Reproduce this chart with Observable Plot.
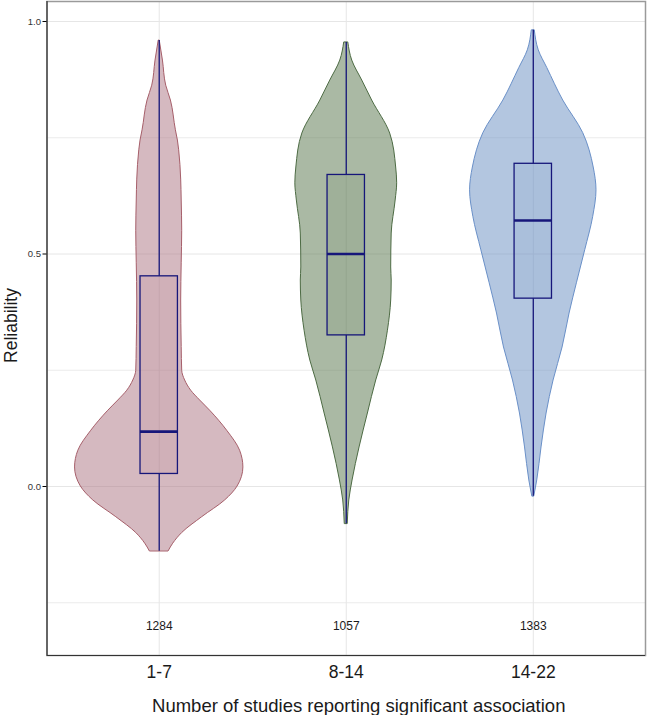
<!DOCTYPE html>
<html>
<head>
<meta charset="utf-8">
<script src="https://cdn.jsdelivr.net/npm/d3@7"></script>
<script src="https://cdn.jsdelivr.net/npm/@observablehq/plot@0.6"></script>
<style>
  html, body { margin: 0; padding: 0; background: white; }
</style>
</head>
<body>
<div id="chart"></div>
<script>
// ---- data ----
const categories = ["1-7", "8-14", "14-22"];
const counts = [1284, 1057, 1383];
const whiskerLow = [-0.139, -0.080, -0.021];
const q1 = [0.027, 0.325, 0.404];
const median = [0.118, 0.500, 0.572];
const q3 = [0.452, 0.670, 0.694];
const whiskerHigh = [0.959, 0.955, 0.981];
const yTicks = [0, 0.5, 1];
const yMinorGrid = [-0.25, 0.25, 0.75];

// violin density profiles (reliability level -> relative density)
const levels1 = [0.959, 0.916, 0.862, 0.83, 0.766, 0.744, 0.723, 0.66, 0.615, 0.55, 0.48, 0.40, 0.30, 0.249, 0.228, 0.206, 0.185, 0.163, 0.12, 0.077, 0.041, 0.0, -0.03, -0.066, -0.1, -0.123, -0.139];
const density1 = [0.006, 0.044, 0.083, 0.139, 0.198, 0.222, 0.237, 0.261, 0.267, 0.273, 0.267, 0.261, 0.267, 0.273, 0.308, 0.380, 0.486, 0.605, 0.807, 0.961, 1.0, 0.931, 0.783, 0.510, 0.273, 0.166, 0.113];
const levels2 = [0.955, 0.916, 0.873, 0.83, 0.759, 0.686, 0.652, 0.615, 0.544, 0.471, 0.443, 0.40, 0.335, 0.271, 0.228, 0.157, 0.084, 0.013, -0.03, -0.08];
const density2 = [0.024, 0.071, 0.19, 0.308, 0.522, 0.593, 0.605, 0.587, 0.540, 0.534, 0.540, 0.534, 0.495, 0.427, 0.356, 0.257, 0.158, 0.075, 0.036, 0.018];
const levels3 = [0.981, 0.938, 0.9, 0.83, 0.76, 0.686, 0.637, 0.58, 0.508, 0.437, 0.372, 0.299, 0.228, 0.157, 0.084, 0.013, -0.021];
const density3 = [0.018, 0.065, 0.166, 0.356, 0.593, 0.718, 0.751, 0.712, 0.617, 0.518, 0.431, 0.348, 0.241, 0.158, 0.098, 0.047, 0.012];

const fillColors = ["#ab7381", "#557349", "#678dc1"];
const strokeColors = ["#a65f6a", "#4d6b44", "#6a90c8"];
const boxColor = "#16167a";

const xLabel = "Number of studies reporting significant association";
const yLabel = "Reliability";

// ---- build ----
const profiles = [[levels1, density1], [levels2, density2], [levels3, density3]];
const maxHalf = 0.45; // max violin half-width in category units
const idx = d3.range(categories.length);

const violinMarks = profiles.map(([lv, dn], i) =>
  Plot.areaX(lv.map((v, k) => ({v, d: dn[k]})).reverse(), {
    y: "v",
    x1: d => i + 1 - d.d * maxHalf,
    x2: d => i + 1 + d.d * maxHalf,
    fill: fillColors[i],
    fillOpacity: 0.5,
    stroke: strokeColors[i],
    strokeWidth: 1,
    curve: "monotone-y"
  })
);

const yDomain = [-0.3634, 1.043];

const chart = Plot.plot({
  width: 647,
  height: 715,
  marginLeft: 46.5,
  marginRight: 2,
  marginTop: 1,
  marginBottom: 60,
  x: {domain: [0.4, 3.6]},
  y: {domain: yDomain},
  style: {fontFamily: "'Liberation Sans', Arial, sans-serif", background: "white"},
  marks: [
    Plot.gridY(yMinorGrid, {stroke: "#ebebeb", strokeOpacity: 1, strokeWidth: 1}),
    Plot.gridY(yTicks, {stroke: "#e6e6e6", strokeOpacity: 1, strokeWidth: 1}),
    Plot.gridX([1, 2, 3], {stroke: "#e6e6e6", strokeOpacity: 1, strokeWidth: 1}),
    ...violinMarks,
    Plot.ruleX(idx, {x: i => i + 1, y1: i => whiskerLow[i], y2: i => q1[i], stroke: boxColor, strokeWidth: 1.3}),
    Plot.ruleX(idx, {x: i => i + 1, y1: i => q3[i], y2: i => whiskerHigh[i], stroke: boxColor, strokeWidth: 1.3}),
    Plot.rect(idx, {
      x1: i => i + 1 - 0.1, x2: i => i + 1 + 0.1,
      y1: i => q1[i], y2: i => q3[i],
      fill: i => fillColors[i], fillOpacity: 0.12,
      stroke: boxColor, strokeWidth: 1.3
    }),
    Plot.ruleY(idx, {y: i => median[i], x1: i => i + 1 - 0.1, x2: i => i + 1 + 0.1, stroke: boxColor, strokeWidth: 2.6}),
    Plot.text(idx, {x: i => i + 1, y: -0.3, text: i => String(counts[i]), fontSize: 12, fill: "#1a1a1a"}),
    Plot.frame({stroke: "#9a9a9a", strokeWidth: 1.5}),
    Plot.ruleX([0.4], {stroke: "#333", strokeWidth: 1.2}),
    Plot.ruleY([yDomain[0]], {stroke: "#333", strokeWidth: 1.2}),
    Plot.axisY({ticks: yTicks, tickFormat: d => d.toFixed(1), tickSize: 4, tickPadding: 2, fontSize: 9.5, fill: "#333", label: null}),
    Plot.axisX({ticks: [1, 2, 3], tickFormat: d => categories[d - 1], tickSize: 0, tickPadding: 10, fontSize: 17.5, fill: "#1a1a1a", label: null}),
    Plot.text([xLabel], {frameAnchor: "bottom", lineAnchor: "middle", dx: 12.5, dy: 50.6, fontSize: 18.5, fill: "#1a1a1a"}),
    Plot.text([yLabel], {frameAnchor: "left", textAnchor: "middle", lineAnchor: "middle", dx: -35.5, dy: -3, rotate: -90, fontSize: 17.5, fill: "#1a1a1a"})
  ]
});

document.getElementById("chart").appendChild(chart);
</script>
</body>
</html>
